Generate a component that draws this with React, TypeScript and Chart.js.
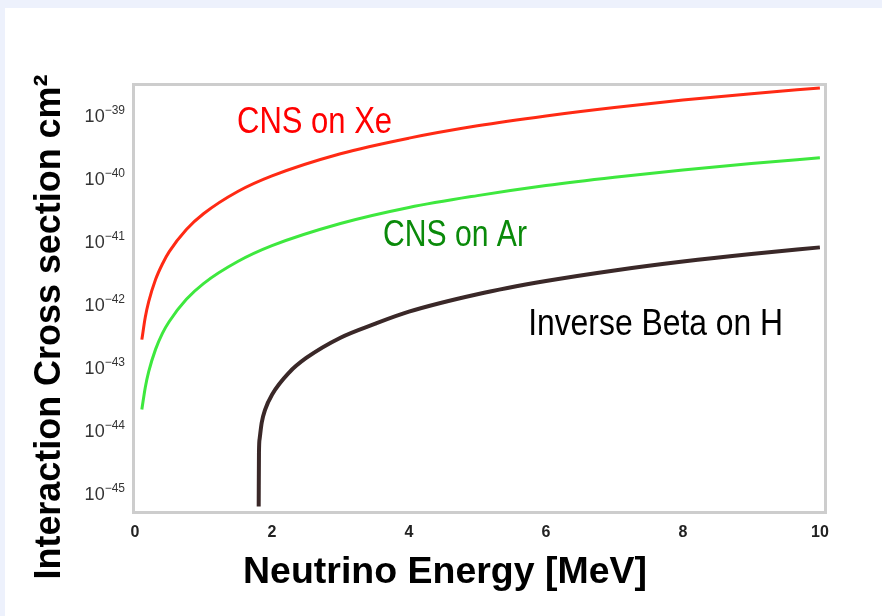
import React, { useEffect, useRef } from "react";
import { Chart, registerables } from "chart.js";

Chart.register(...registerables);

// Neutrino energy [MeV] and cross sections [cm^2]
const energyCNS = [0.1, 0.15, 0.2, 0.3, 0.4, 0.5, 0.75, 1, 1.5, 2, 3, 4, 5, 6, 7, 8, 9, 10];
const sigmaXe = [2.7e-43, 6.1e-43, 1.08e-42, 2.43e-42, 4.3e-42, 6.75e-42, 1.52e-41, 2.7e-41, 6.1e-41, 1.08e-40, 2.43e-40, 4.3e-40, 6.75e-40, 9.7e-40, 1.32e-39, 1.73e-39, 2.19e-39, 2.7e-39];
const sigmaAr = [2.1e-44, 4.7e-44, 8.4e-44, 1.89e-43, 3.4e-43, 5.25e-43, 1.18e-42, 2.1e-42, 4.7e-42, 8.4e-42, 1.89e-41, 3.4e-41, 5.25e-41, 7.6e-41, 1.03e-40, 1.34e-40, 1.7e-40, 2.1e-40];
const energyIBD = [1.806, 1.81, 1.82, 1.85, 1.9, 2.0, 2.25, 2.5, 3, 3.5, 4, 5, 6, 7, 8, 9, 10];
const sigmaIBD = [6e-46, 4.3e-45, 7.2e-45, 1.29e-44, 2.08e-44, 3.6e-44, 8.1e-44, 1.38e-43, 2.9e-43, 4.8e-43, 7.5e-43, 1.42e-42, 2.3e-42, 3.39e-42, 4.7e-42, 6.2e-42, 7.9e-42];

const xTicks = [0, 2, 4, 6, 8, 10];
const yExponents = [-45, -44, -43, -42, -41, -40, -39];

const seriesNames = ["CNS on Xe", "CNS on Ar", "Inverse Beta on H"];
const xTitle = "Neutrino Energy [MeV]";
const yTitle = "Interaction Cross section cm²";

// label anchors (data coordinates), styles
const labelAnchors = [
  { text: "CNS on Xe", x: 1.49, y: 5.1e-40, color: "#ff0000", width: 155 },
  { text: "CNS on Ar", x: 3.62, y: 8.3e-42, color: "#0a8a0a", width: 144 },
  { text: "Inverse Beta on H", x: 5.74, y: 3.2e-43, color: "#000000", width: 255 },
];

const zip = (xs: number[], ys: number[]) => xs.map((x, i) => ({ x, y: ys[i] }));

export default function App() {
  const ref = useRef<HTMLCanvasElement | null>(null);

  useEffect(() => {
    if (!ref.current) return;
    const overlay = {
      id: "overlay",
      beforeDatasetsDraw(chart: any) {
        const { ctx, chartArea: a } = chart;
        ctx.save();
        ctx.strokeStyle = "#cdcdcd";
        ctx.lineWidth = 3;
        ctx.strokeRect(a.left - 1.5, a.top - 1.5, a.right - a.left + 3, a.bottom - a.top + 3);
        ctx.restore();
      },
      afterDraw(chart: any) {
        const { ctx, chartArea: a } = chart;
        const xs = chart.scales.x;
        const ys = chart.scales.y;
        ctx.save();
        // y tick labels 10^n with real superscripts
        ctx.fillStyle = "#333";
        ctx.textAlign = "left";
        ctx.textBaseline = "alphabetic";
        for (const e of yExponents) {
          const y = ys.getPixelForValue(Math.pow(10, e));
          const base = "10";
          const exp = (e < 0 ? "\u2212" : "") + String(Math.abs(e));
          ctx.font = '12px "Liberation Sans", Arial, sans-serif';
          const w2 = ctx.measureText(exp).width;
          ctx.font = '18px "Liberation Sans", Arial, sans-serif';
          const w1 = ctx.measureText(base).width;
          const right = a.left - 10;
          ctx.fillText(base, right - w2 - w1, y + 7);
          ctx.font = '12px "Liberation Sans", Arial, sans-serif';
          ctx.fillText(exp, right - w2, y - 1);
        }
        // curve labels
        for (const l of labelAnchors) {
          ctx.font = '37px "Liberation Sans Narrow", "Arial Narrow", "Liberation Sans", sans-serif';
          ctx.fillStyle = l.color;
          ctx.textAlign = "left";
          ctx.textBaseline = "alphabetic";
          const px = xs.getPixelForValue(l.x);
          const py = ys.getPixelForValue(l.y);
          const w = ctx.measureText(l.text).width;
          ctx.save();
          ctx.translate(px, py);
          ctx.scale(l.width / w, 1);
          ctx.fillText(l.text, 0, 0);
          ctx.restore();
        }
        // axis titles
        ctx.fillStyle = "#000";
        ctx.font = 'bold 37px "Liberation Sans", Arial, sans-serif';
        ctx.textAlign = "center";
        ctx.textBaseline = "alphabetic";
        {
          const w = ctx.measureText(xTitle).width;
          ctx.save();
          ctx.translate(440, 575);
          ctx.scale(404 / w, 1);
          ctx.fillText(xTitle, 0, 0);
          ctx.restore();
        }
        {
          const w = ctx.measureText(yTitle).width;
          ctx.save();
          ctx.translate(55, 319);
          ctx.rotate(-Math.PI / 2);
          ctx.scale(505 / w, 1);
          ctx.fillText(yTitle, 0, 0);
          ctx.restore();
        }
        ctx.restore();
      },
    };

    const chart = new Chart(ref.current, {
      type: "line",
      data: {
        datasets: [
          {
            label: seriesNames[0],
            data: zip(energyCNS, sigmaXe),
            borderColor: "#ff2a14",
            borderWidth: 3,
            pointRadius: 0,
            cubicInterpolationMode: "monotone",
          },
          {
            label: seriesNames[1],
            data: zip(energyCNS, sigmaAr),
            borderColor: "#3ee83e",
            borderWidth: 3,
            pointRadius: 0,
            cubicInterpolationMode: "monotone",
          },
          {
            label: seriesNames[2],
            data: zip(energyIBD, sigmaIBD),
            borderColor: "#3a2828",
            borderWidth: 4,
            pointRadius: 0,
            cubicInterpolationMode: "monotone",
          },
        ],
      },
      options: {
        animation: false,
        responsive: false,
        layout: { padding: { left: 0, right: 58, top: 78, bottom: 0 } },
        plugins: { legend: { display: false }, tooltip: { enabled: false } },
        scales: {
          x: {
            type: "linear",
            min: 0,
            max: 10.06,
            afterBuildTicks: (s: any) => {
              s.ticks = xTicks.map((v) => ({ value: v }));
            },
            afterFit: (s: any) => {
              s.height = 105;
            },
            grid: { display: false, drawTicks: false },
            border: { display: false },
            ticks: {
              padding: 12,
              color: "#222",
              font: { family: '"Liberation Sans", Arial, sans-serif', size: 16, weight: "bold" },
              maxRotation: 0,
              callback: (v: any) => String(v),
            },
          },
          y: {
            type: "logarithmic",
            min: 5.1e-46,
            max: 2.9e-39,
            afterBuildTicks: (s: any) => {
              s.ticks = yExponents.map((e) => ({ value: Math.pow(10, e) }));
            },
            afterFit: (s: any) => {
              s.width = 130;
            },
            grid: { display: false, drawTicks: false },
            border: { display: false },
            ticks: { display: false },
          },
        },
      },
      plugins: [overlay],
    } as any);
    return () => chart.destroy();
  }, []);

  return (
    <div style={{ position: "fixed", left: 0, top: 0, width: 882, height: 616, background: "#edf1fc" }}>
      <div style={{ position: "absolute", left: 5, top: 8, width: 877, height: 608, background: "#fff" }}>
        <canvas ref={ref} width={877} height={608} style={{ display: "block" }} />
      </div>
    </div>
  );
}
